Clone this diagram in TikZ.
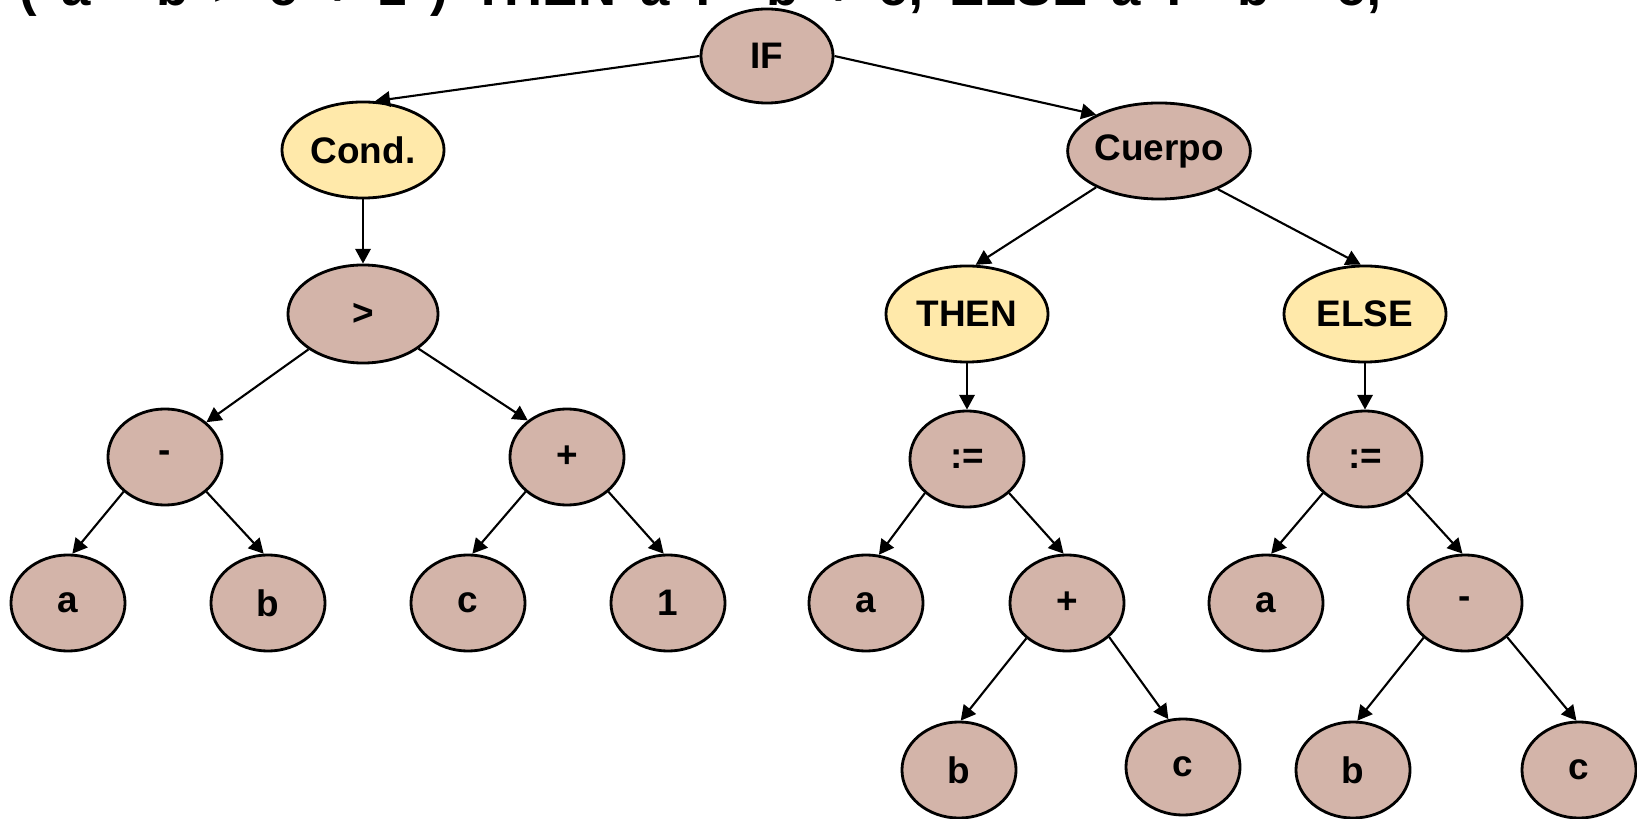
\documentclass[tikz,border=0pt]{standalone}
\usepackage{fontspec}
\setmainfont{Liberation Sans}
\usetikzlibrary{shapes.geometric,arrows.meta}
\definecolor{cafe}{RGB}{211,180,169}
\definecolor{crema}{RGB}{255,233,170}
\begin{document}
\begin{tikzpicture}[x=0.01cm,y=-0.01cm]
% Estilos del arbol
\tikzstyle{nodo} = [ellipse, draw, line width=0.8pt, fill=cafe, inner sep=0pt, minimum width=1.14cm, minimum height=0.96cm, font=\fontsize{10.5}{12}\selectfont\bfseries]
\tikzstyle{clave} = [nodo, fill=crema, minimum width=1.62cm]
\tikzstyle{flecha} = [-{Triangle[length=4.2pt,width=4.4pt]}, line width=0.6pt]

\useasboundingbox (0,0) rectangle (1637,819);

% Sentencia (recortada arriba)
\node[anchor=base west, inner sep=0pt, font=\fontsize{15}{18}\selectfont\bfseries] (sentencia) at (19,6) {\spaceskip=0.46em\relax ( a - b > c + 1 ) THEN a := b + c; ELSE a := b - c;};

% Raiz
\node[nodo, minimum width=1.32cm, minimum height=0.94cm] (if) at (767,56) {IF};
\node[clave] (cond) at (363,150) {Cond.};
\node[nodo, minimum width=1.62cm] (cuerpo) at (1159,151) {Cuerpo};

% Condicion
\node[nodo, minimum width=1.50cm, minimum height=0.98cm] (mayor) at (363,314) {>};
\node[nodo] (resta) at (165,457) {-};
\node[nodo] (suma) at (567,457) {+};
\node[nodo] (a1) at (68,603) {a};
\node[nodo] (b1) at (268,603) {b};
\node[nodo] (c1) at (468,603) {c};
\node[nodo] (uno) at (668,603) {1};

% Cuerpo
\node[clave] (then) at (967,314) {THEN};
\node[clave] (else) at (1365,314) {ELSE};
\node[nodo] (asig1) at (967,459) {:=};
\node[nodo] (asig2) at (1365,459) {:=};
\node[nodo] (a2) at (866,603) {a};
\node[nodo] (suma2) at (1067,603) {+};
\node[nodo] (a3) at (1266,603) {a};
\node[nodo] (resta2) at (1465,603) {-};
\node[nodo] (b2) at (959,770) {b};
\node[nodo] (c2) at (1183,767) {c};
\node[nodo] (b3) at (1353,770) {b};
\node[nodo] (c3) at (1579,770) {c};

% Conexiones
\draw[flecha] (if.west) -- (cond.76);
\draw[flecha] (if.east) -- (cuerpo.150);
\draw[flecha] (cond.south) -- (mayor.north);
\draw[flecha] (mayor.213) -- (resta.40);
\draw[flecha] (mayor.328) -- (suma.137);
\draw[flecha] (resta.220) -- (a1.85);
\draw[flecha] (resta.320) -- (b1.95);
\draw[flecha] (suma.220) -- (c1.85);
\draw[flecha] (suma.320) -- (uno.95);

\draw[flecha] (cuerpo.210) -- (then.80);
\draw[flecha] (cuerpo.327) -- (else.95);
\draw[flecha] (then.south) -- (asig1.north);
\draw[flecha] (else.south) -- (asig2.north);
\draw[flecha] (asig1.219) -- (a2.75);
\draw[flecha] (asig1.321) -- (suma2.94);
\draw[flecha] (asig2.219) -- (a3.84);
\draw[flecha] (asig2.321) -- (resta2.93);
\draw[flecha] (suma2.221) -- (b2.88);
\draw[flecha] (suma2.321) -- (c2.107);
\draw[flecha] (resta2.220) -- (b3.85);
\draw[flecha] (resta2.321) -- (c3.93);
\end{tikzpicture}
\end{document}
